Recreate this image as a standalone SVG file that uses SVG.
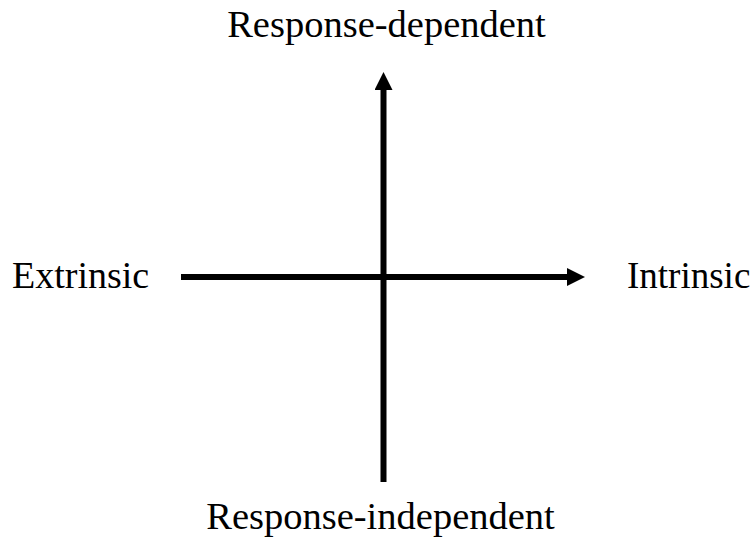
<svg xmlns="http://www.w3.org/2000/svg" width="751" height="543" viewBox="0 0 751 543">
<style>
text{font-family:"Liberation Serif","Times New Roman",serif;font-size:38.5px;fill:#000}
.side{font-size:38px}
.ax{stroke:#000;stroke-width:6;fill:none}
</style>
<defs>
<marker id="ah" markerUnits="userSpaceOnUse" markerWidth="18" markerHeight="18" refX="0" refY="9" orient="auto" viewBox="0 0 18 18">
<path d="M0,0 L18,9 L0,18 Z" fill="#000"/>
</marker>
</defs>
<g id="connectors">
<line class="ax" x1="181" y1="277" x2="567" y2="277" marker-end="url(#ah)"/>
<line class="ax" x1="383.5" y1="482" x2="383.5" y2="90" marker-end="url(#ah)"/>
</g>
<g id="top"><text x="386.5" y="37" text-anchor="middle">Response-dependent</text></g>
<g id="bottom"><text x="380.5" y="529" text-anchor="middle">Response-independent</text></g>
<g id="left"><text class="side" x="12" y="288">Extrinsic</text></g>
<g id="right"><text x="627" y="288" style="font-size:37px">Intrinsic</text></g>
</svg>
